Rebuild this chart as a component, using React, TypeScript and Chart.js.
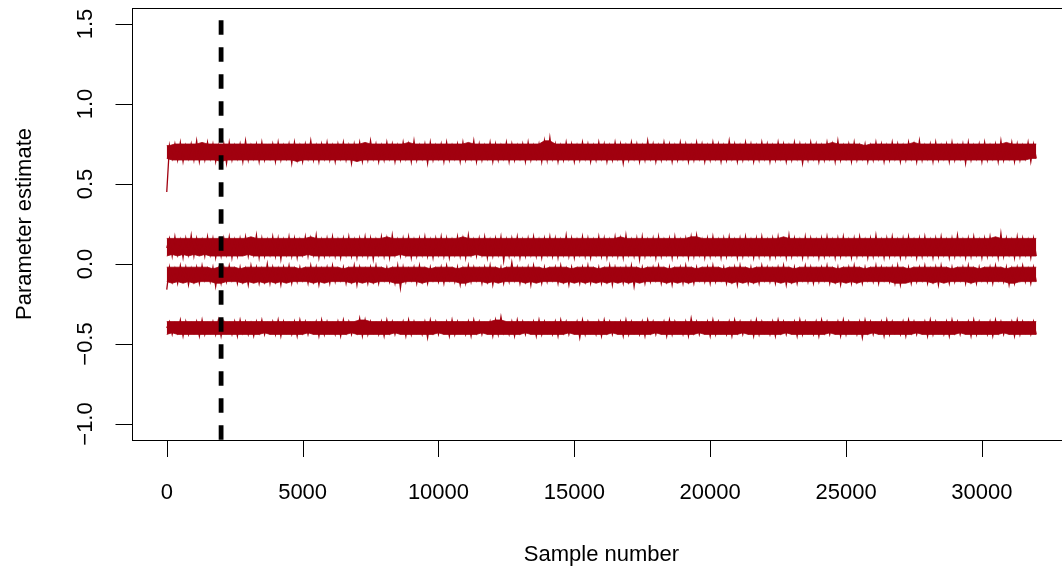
import React, { useEffect, useRef } from "react";
import { Chart, registerables } from "chart.js";

Chart.register(...registerables);

// ---- data ----
// one stored value per 100 MCMC samples, alternating local low (even index) / local high (odd index) of the trace
const SAMPLE_STEP = 100;
const burnIn = 2000;
const xTicks = [0, 5000, 10000, 15000, 20000, 25000, 30000];
const xTickLabels = ["0", "5000", "10000", "15000", "20000", "25000", "30000"];
const yTicks = [-1.0, -0.5, 0.0, 0.5, 1.0, 1.5];
const yTickLabels = ["\u22121.0", "\u22120.5", "0.0", "0.5", "1.0", "1.5"];
const xLabel = "Sample number";
const yLabel = "Parameter estimate";

const paramA = [
  .45,.74,.66,.75,.65,.76,.64,.74,.66,.75,.65,.77,.64,.74,.65,.76,.66,.75,.64,.74,
  .65,.75,.63,.76,.65,.74,.66,.75,.64,.77,.65,.74,.66,.75,.64,.76,.65,.73,.66,.75,
  .64,.76,.65,.74,.66,.75,.63,.76,.65,.74,.64,.75,.66,.77,.65,.74,.64,.75,.66,.76,
  .65,.74,.64,.75,.66,.76,.65,.74,.63,.75,.66,.76,.64,.74,.65,.77,.66,.75,.64,.74,
  .65,.76,.66,.75,.64,.74,.65,.76,.66,.75,.64,.77,.65,.74,.66,.75,.63,.76,.65,.74,
  .66,.75,.64,.76,.65,.74,.66,.75,.64,.76,.65,.74,.66,.77,.64,.75,.65,.74,.66,.76,
  .64,.75,.65,.74,.66,.76,.64,.75,.65,.74,.66,.75,.64,.76,.65,.74,.66,.75,.64,.77,
  .65,.79,.66,.75,.64,.74,.65,.76,.66,.75,.64,.74,.65,.76,.66,.75,.64,.74,.65,.76,
  .66,.75,.64,.74,.65,.76,.66,.75,.63,.74,.65,.76,.66,.75,.64,.74,.65,.77,.66,.75,
  .64,.74,.65,.76,.66,.75,.64,.74,.65,.76,.66,.75,.64,.74,.65,.76,.66,.75,.64,.74,
  .65,.76,.66,.75,.64,.74,.65,.77,.66,.75,.64,.74,.65,.76,.66,.75,.64,.74,.65,.76,
  .66,.75,.64,.74,.65,.76,.66,.75,.64,.74,.65,.76,.66,.75,.63,.74,.65,.76,.66,.75,
  .64,.74,.65,.76,.66,.75,.64,.77,.65,.74,.66,.75,.64,.76,.65,.74,.66,.75,.64,.74,
  .65,.76,.66,.75,.64,.74,.65,.76,.66,.75,.64,.74,.65,.76,.66,.75,.64,.77,.65,.74,
  .66,.75,.64,.76,.65,.74,.66,.75,.64,.76,.65,.74,.66,.75,.63,.76,.65,.74,.66,.75,
  .64,.76,.65,.74,.66,.75,.64,.77,.65,.74,.66,.76,.64,.75,.65,.74,.66,.76,.64,.75,
  .66,
];

const paramB = [
  .10,.16,.05,.17,.06,.15,.04,.16,.06,.18,.05,.16,.07,.15,.05,.17,.06,.16,.04,.15,
  .05,.16,.06,.17,.04,.15,.05,.16,.07,.17,.05,.15,.06,.18,.04,.16,.05,.15,.06,.17,
  .05,.16,.03,.15,.06,.17,.05,.16,.04,.15,.06,.17,.05,.16,.06,.18,.04,.15,.05,.16,
  .06,.17,.05,.15,.04,.16,.06,.17,.05,.15,.04,.16,.06,.17,.05,.16,.03,.15,.06,.17,
  .05,.16,.04,.18,.06,.15,.05,.16,.06,.17,.04,.15,.05,.16,.06,.17,.05,.15,.04,.16,
  .06,.17,.05,.16,.04,.15,.06,.17,.05,.16,.04,.18,.06,.15,.05,.16,.06,.17,.04,.15,
  .05,.16,.06,.17,.02,.15,.05,.16,.06,.17,.04,.15,.05,.16,.06,.17,.05,.15,.04,.16,
  .06,.17,.05,.16,.04,.15,.06,.18,.05,.16,.04,.15,.06,.17,.05,.16,.04,.15,.06,.17,
  .05,.16,.04,.15,.06,.17,.05,.16,.04,.18,.06,.15,.05,.16,.03,.17,.05,.15,.06,.16,
  .04,.17,.05,.15,.06,.16,.04,.17,.05,.15,.06,.16,.04,.17,.05,.18,.06,.15,.04,.16,
  .05,.17,.06,.15,.04,.16,.05,.17,.06,.15,.04,.16,.05,.17,.06,.15,.04,.16,.05,.17,
  .06,.15,.04,.16,.05,.17,.06,.15,.04,.18,.05,.16,.06,.15,.04,.17,.05,.16,.06,.15,
  .04,.16,.05,.17,.06,.15,.04,.16,.05,.17,.06,.15,.04,.16,.05,.17,.06,.15,.04,.16,
  .05,.18,.06,.15,.04,.16,.05,.17,.06,.15,.04,.16,.05,.17,.06,.15,.04,.16,.05,.17,
  .06,.15,.04,.16,.05,.17,.06,.15,.04,.16,.05,.18,.06,.15,.04,.16,.05,.17,.06,.15,
  .04,.16,.05,.17,.06,.15,.04,.19,.05,.16,.06,.15,.04,.17,.05,.16,.06,.15,.04,.16,
  .05,
];

const paramC = [
  -.16,-.02,-.11,-.03,-.12,-.01,-.10,-.02,-.13,-.03,-.11,-.02,-.12,-.01,-.10,-.03,-.11,-.02,-.14,-.03,
  -.12,-.02,-.11,-.01,-.10,-.03,-.12,-.02,-.11,-.03,-.13,-.01,-.10,-.02,-.12,-.03,-.11,.00,-.12,-.02,
  -.11,-.03,-.13,-.02,-.10,-.01,-.12,-.03,-.11,-.02,-.10,-.03,-.12,-.01,-.11,-.02,-.13,-.03,-.10,-.02,
  -.12,-.01,-.11,-.03,-.10,-.02,-.12,-.03,-.11,-.01,-.13,-.02,-.10,-.03,-.12,-.02,-.11,-.01,-.12,-.03,
  -.10,-.02,-.11,-.03,-.12,-.01,-.15,-.02,-.11,-.03,-.10,-.02,-.12,-.01,-.11,-.03,-.12,-.02,-.10,-.03,
  -.11,-.02,-.12,-.01,-.10,-.03,-.11,-.02,-.13,-.03,-.12,-.01,-.11,-.02,-.10,-.03,-.12,-.02,-.11,-.01,
  -.13,-.03,-.10,-.02,-.12,-.03,-.11,.01,-.10,-.02,-.12,-.03,-.11,-.02,-.13,-.01,-.10,-.03,-.12,-.02,
  -.11,-.03,-.10,-.02,-.12,-.01,-.11,-.03,-.13,-.02,-.10,-.03,-.12,-.02,-.11,-.01,-.12,-.03,-.10,-.02,
  -.12,-.03,-.11,-.01,-.13,-.02,-.10,-.03,-.12,-.02,-.11,-.01,-.14,-.03,-.10,-.02,-.12,-.03,-.11,-.02,
  -.10,-.01,-.12,-.03,-.11,-.02,-.13,-.03,-.10,-.02,-.12,-.01,-.11,-.03,-.12,-.02,-.10,-.03,-.11,-.02,
  -.12,-.01,-.11,-.03,-.10,-.02,-.12,-.03,-.11,-.02,-.13,-.01,-.10,-.03,-.12,-.02,-.11,-.03,-.12,-.01,
  -.10,-.02,-.11,-.03,-.12,-.02,-.10,-.01,-.13,-.03,-.11,-.02,-.12,-.03,-.10,-.01,-.11,-.02,-.12,-.03,
  -.11,-.02,-.10,-.01,-.12,-.03,-.11,-.02,-.13,-.03,-.10,-.02,-.12,-.01,-.11,-.03,-.12,-.02,-.10,-.03,
  -.11,-.01,-.12,-.02,-.10,-.03,-.11,-.02,-.12,-.01,-.13,-.03,-.10,-.02,-.12,-.03,-.11,-.02,-.10,-.01,
  -.12,-.03,-.11,-.02,-.13,-.01,-.10,-.03,-.12,-.02,-.11,-.03,-.10,-.02,-.12,-.01,-.11,-.03,-.12,-.02,
  -.10,-.03,-.11,-.02,-.12,-.01,-.10,-.03,-.11,-.02,-.13,-.03,-.12,-.02,-.10,-.01,-.11,-.03,-.12,-.02,
  -.11,
];

const paramD = [
  -.40,-.36,-.44,-.37,-.43,-.35,-.45,-.36,-.44,-.37,-.43,-.36,-.45,-.35,-.44,-.37,-.43,-.36,-.44,-.35,
  -.45,-.36,-.43,-.37,-.44,-.36,-.45,-.35,-.43,-.36,-.44,-.37,-.45,-.36,-.43,-.35,-.44,-.37,-.43,-.36,
  -.44,-.35,-.45,-.36,-.43,-.37,-.44,-.36,-.45,-.35,-.43,-.36,-.44,-.37,-.43,-.36,-.45,-.35,-.44,-.36,
  -.43,-.37,-.44,-.36,-.45,-.35,-.43,-.36,-.44,-.37,-.43,-.34,-.45,-.35,-.44,-.36,-.43,-.37,-.44,-.36,
  -.45,-.35,-.43,-.36,-.44,-.37,-.43,-.36,-.45,-.35,-.44,-.36,-.43,-.37,-.44,-.36,-.46,-.35,-.43,-.36,
  -.44,-.37,-.43,-.36,-.45,-.35,-.44,-.36,-.43,-.37,-.44,-.36,-.45,-.35,-.43,-.36,-.44,-.37,-.43,-.36,
  -.45,-.35,-.44,-.33,-.43,-.37,-.44,-.36,-.45,-.35,-.43,-.36,-.44,-.37,-.43,-.36,-.45,-.35,-.44,-.36,
  -.43,-.37,-.44,-.36,-.45,-.35,-.43,-.36,-.44,-.37,-.43,-.36,-.46,-.35,-.44,-.36,-.43,-.37,-.44,-.36,
  -.45,-.35,-.43,-.36,-.44,-.37,-.43,-.36,-.45,-.35,-.44,-.36,-.43,-.37,-.44,-.36,-.45,-.35,-.43,-.36,
  -.44,-.37,-.43,-.36,-.45,-.35,-.44,-.36,-.43,-.37,-.44,-.36,-.45,-.34,-.43,-.36,-.44,-.37,-.43,-.36,
  -.45,-.35,-.44,-.36,-.43,-.37,-.44,-.36,-.45,-.35,-.43,-.36,-.44,-.37,-.43,-.36,-.45,-.35,-.44,-.36,
  -.43,-.37,-.44,-.36,-.45,-.35,-.43,-.36,-.44,-.37,-.43,-.36,-.45,-.35,-.44,-.36,-.43,-.37,-.44,-.36,
  -.45,-.35,-.43,-.36,-.44,-.37,-.43,-.36,-.45,-.35,-.44,-.36,-.43,-.37,-.44,-.36,-.46,-.35,-.43,-.36,
  -.44,-.37,-.43,-.36,-.45,-.35,-.44,-.36,-.43,-.37,-.44,-.36,-.45,-.35,-.43,-.36,-.44,-.37,-.43,-.36,
  -.45,-.35,-.44,-.36,-.43,-.37,-.44,-.36,-.45,-.35,-.43,-.36,-.44,-.37,-.43,-.36,-.45,-.35,-.44,-.36,
  -.43,-.37,-.44,-.36,-.45,-.35,-.43,-.36,-.44,-.37,-.43,-.36,-.45,-.35,-.44,-.36,-.43,-.37,-.44,-.36,
  -.44,
];

const traces = [paramA, paramB, paramC, paramD];

// ---- style ----
const TRACE_COLOR = "#A1000F";
const FONT = '"Liberation Sans", Arial, Helvetica, sans-serif';
const CANVAS_W = 1100;
const CANVAS_H = 575;

const median3 = (a: number, b: number, c: number) => Math.max(Math.min(a, b), Math.min(Math.max(a, b), c));

const axesPlugin = {
  id: "rAxes",
  afterDraw(chart: any) {
    const { ctx, chartArea: a } = chart;
    const xs = chart.scales.x;
    const ys = chart.scales.y;
    ctx.save();
    ctx.strokeStyle = "#000";
    ctx.fillStyle = "#000";
    ctx.lineWidth = 1;
    ctx.strokeRect(Math.round(a.left) + 0.5, Math.round(a.top) + 0.5, a.right - a.left, Math.round(a.bottom) - Math.round(a.top));
    ctx.font = `22px ${FONT}`;
    ctx.textAlign = "center";
    ctx.textBaseline = "alphabetic";
    xTicks.forEach((t, i) => {
      const px = Math.round(xs.getPixelForValue(t)) + 0.5;
      ctx.beginPath();
      ctx.moveTo(px, Math.round(a.bottom) + 0.5);
      ctx.lineTo(px, Math.round(a.bottom) + 17);
      ctx.stroke();
      ctx.fillText(xTickLabels[i], xs.getPixelForValue(t), a.bottom + 59);
    });
    yTicks.forEach((t, i) => {
      const py = Math.round(ys.getPixelForValue(t)) + 0.5;
      ctx.beginPath();
      ctx.moveTo(Math.round(a.left) + 0.5, py);
      ctx.lineTo(Math.round(a.left) - 16.5, py);
      ctx.stroke();
      ctx.save();
      ctx.translate(a.left - 40.5, ys.getPixelForValue(t));
      ctx.rotate(-Math.PI / 2);
      ctx.fillText(yTickLabels[i], 0, 0);
      ctx.restore();
    });
    ctx.fillText(xLabel, (a.left + a.right) / 2, a.bottom + 121);
    ctx.save();
    ctx.translate(31, (a.top + a.bottom) / 2);
    ctx.rotate(-Math.PI / 2);
    ctx.fillText(yLabel, 0, 0);
    ctx.restore();
    ctx.restore();
  },
};

export default function App() {
  const canvasRef = useRef<HTMLCanvasElement | null>(null);

  useEffect(() => {
    const canvas = canvasRef.current;
    if (!canvas) return;
    const yMin = -1.1;
    const yMax = 1.6;
    const datasets: any[] = [
      {
        label: "burn-in",
        data: [
          { x: burnIn, y: yMax },
          { x: burnIn, y: yMin },
        ],
        borderColor: "#000",
        borderWidth: 4.8,
        borderDash: [14.5, 12.5],
        borderDashOffset: 14.7,
        borderCapStyle: "butt",
        pointRadius: 0,
        clip: 0,
        fill: false,
      },
    ];
    traces.forEach((vals, k) => {
      const pts = vals.map((v, i) => ({ x: i * SAMPLE_STEP, y: v }));
      const highs = pts.filter((_, i) => i % 2 === 1);
      const lows = pts.filter((_, i) => i % 2 === 0);
      const lastX = pts[pts.length - 1].x;
      // solid core of the trace (median of neighbouring sweeps)
      const coreHi = highs.map((p, j) => ({
        x: p.x,
        y: median3((highs[j - 1] || p).y, p.y, (highs[j + 1] || p).y),
      }));
      coreHi.unshift({ x: 0, y: coreHi[0].y });
      coreHi.push({ x: lastX, y: coreHi[coreHi.length - 1].y });
      const coreLo = lows.map((p, j) => ({
        x: p.x,
        y: j === 0 ? lows[1].y : median3((lows[j - 1] || p).y, p.y, (lows[j + 1] || p).y),
      }));
      // full trace (thin sweeps produce the spikes)
      datasets.push({
        label: `param${k + 1}`,
        data: pts,
        borderColor: TRACE_COLOR,
        borderWidth: 1.3,
        pointRadius: 0,
        tension: 0,
        fill: false,
        clip: 0,
      });
      datasets.push({
        label: `param${k + 1} core hi`,
        data: coreHi,
        borderColor: TRACE_COLOR,
        backgroundColor: TRACE_COLOR,
        borderWidth: 0.8,
        pointRadius: 0,
        tension: 0,
        fill: "+1",
        clip: 0,
      });
      datasets.push({
        label: `param${k + 1} core lo`,
        data: coreLo,
        borderColor: TRACE_COLOR,
        borderWidth: 0.8,
        pointRadius: 0,
        tension: 0,
        fill: false,
        clip: 0,
      });
    });
    const chart = new Chart(canvas, {
      type: "line",
      data: { datasets },
      options: {
        animation: false,
        responsive: false,
        maintainAspectRatio: false,
        devicePixelRatio: 1,
        parsing: false,
        normalized: true,
        events: [],
        layout: { padding: { left: 132, top: 8, right: CANVAS_W - 1071, bottom: CANVAS_H - 440 } },
        plugins: {
          legend: { display: false },
          tooltip: { enabled: false },
          title: { display: false },
          filler: { propagate: false },
        },
        scales: {
          x: { type: "linear", min: -1279, max: 33279, display: false },
          y: { type: "linear", min: yMin, max: yMax, display: false },
        },
      } as any,
      plugins: [axesPlugin],
    });
    return () => chart.destroy();
  }, []);

  return (
    <div style={{ position: "fixed", left: 0, top: 0, width: 1062, height: 575, overflow: "hidden", background: "#fff" }}>
      <canvas ref={canvasRef} width={CANVAS_W} height={CANVAS_H} style={{ display: "block", width: CANVAS_W, height: CANVAS_H }} />
    </div>
  );
}
